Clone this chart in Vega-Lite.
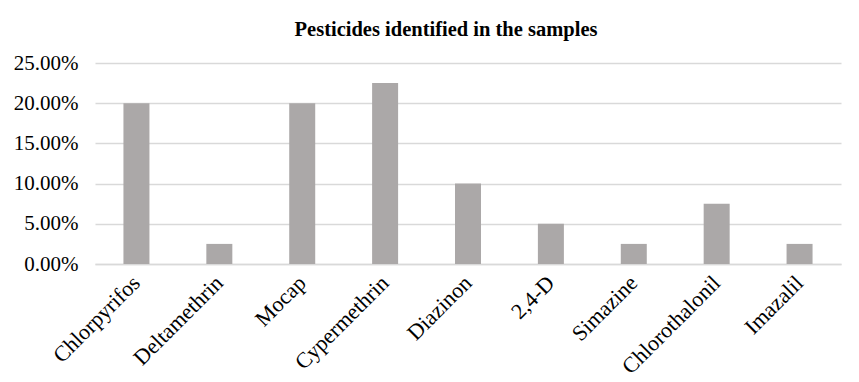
{
  "$schema": "https://vega.github.io/schema/vega-lite/v6.json",
  "autosize": "none",
  "width": 746,
  "height": 201,
  "padding": {"left": 95, "top": 63, "right": 18, "bottom": 118},
  "background": "white",
  "title": {
    "text": "Pesticides identified in the samples",
    "font": "Liberation Serif",
    "fontSize": 20.5,
    "fontWeight": "bold",
    "color": "#000000",
    "anchor": "middle",
    "offset": 12,
    "dx": -22
  },
  "data": {
    "values": [
      {"pesticide": "Chlorpyrifos", "share": 0.2},
      {"pesticide": "Deltamethrin", "share": 0.025},
      {"pesticide": "Mocap", "share": 0.2},
      {"pesticide": "Cypermethrin", "share": 0.225},
      {"pesticide": "Diazinon", "share": 0.1},
      {"pesticide": "2,4-D", "share": 0.05},
      {"pesticide": "Simazine", "share": 0.025},
      {"pesticide": "Chlorothalonil", "share": 0.075},
      {"pesticide": "Imazalil", "share": 0.025}
    ]
  },
  "mark": {"type": "bar", "color": "#aba8a8", "width": 26},
  "encoding": {
    "x": {
      "field": "pesticide",
      "type": "nominal",
      "sort": null,
      "scale": {"paddingInner": 0, "paddingOuter": 0},
      "axis": {
        "title": null,
        "labelAngle": -45,
        "labelAlign": "right",
        "labelBaseline": "middle",
        "labelFont": "Liberation Serif",
        "labelFontSize": 22,
        "labelColor": "#000000",
        "labelPadding": 15,
        "ticks": false,
        "domainColor": "#d9d9d9",
        "domainWidth": 1.5,
        "grid": false
      }
    },
    "y": {
      "field": "share",
      "type": "quantitative",
      "scale": {"domain": [0, 0.25], "nice": false},
      "axis": {
        "title": null,
        "format": ".2%",
        "values": [0, 0.05, 0.1, 0.15, 0.2, 0.25],
        "labelFont": "Liberation Serif",
        "labelFontSize": 21,
        "labelColor": "#000000",
        "labelPadding": 17,
        "ticks": false,
        "domain": false,
        "grid": true,
        "gridColor": "#d9d9d9",
        "gridWidth": 1.5
      }
    }
  },
  "config": {"view": {"stroke": null}}
}
